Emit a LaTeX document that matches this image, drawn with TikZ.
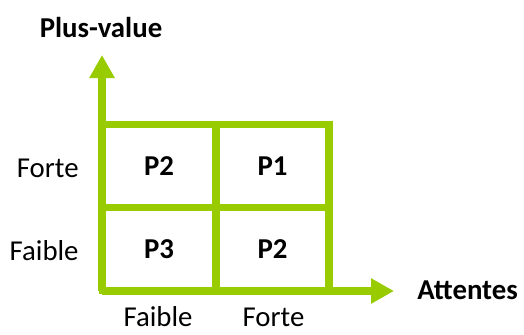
\documentclass[tikz,border=0pt]{standalone}
\usepackage{fontspec}
\setmainfont{Carlito}
\usetikzlibrary{arrows.meta}
\definecolor{vert}{RGB}{153,204,0}
\newcommand{\txtsize}{\fontsize{14.4}{17}\selectfont}

\begin{document}
\begin{tikzpicture}[x=0.5pt,y=-0.5pt,
    cell/.style={draw=vert, line width=3.75pt, minimum width=56.5pt, minimum height=41.5pt, outer sep=0pt, inner sep=0pt, font=\txtsize\bfseries},
    axis/.style={draw=vert, line width=3.75pt, -{Triangle[length=11.5pt,width=12pt]}},
    lbl/.style={inner sep=0pt, font=\txtsize}]
            \useasboundingbox (0,0) rectangle (524,334);
            \coordinate (origin) at (102,291);
            \coordinate (ytop) at (102,55);
            \coordinate (xend) at (394,291);

            \draw[axis] (origin) -- (ytop);
            \draw[axis] (origin) -- (xend);

            \node[cell] (hautfaible) at (159,166) {P2};
            \node[cell] (hautforte) at (272.5,166) {P1};
            \node[cell] (basfaible) at (159,249) {P3};
            \node[cell] (basforte) at (272.5,249) {P2};

            \node[lbl, font=\txtsize\bfseries] (plusvalue) at (101,27) {Plus-value};
            \node[lbl, font=\txtsize\bfseries, anchor=west] (attentes) at (417,290) {Attentes};
            \node[lbl, anchor=east] (forte) at (79,168) {Forte};
            \node[lbl, anchor=east] (faible) at (79,251) {Faible};
            \node[lbl] (xfaible) at (158,317) {Faible};
            \node[lbl] (xforte) at (273.5,317) {Forte};
        \end{tikzpicture}
\end{document}
